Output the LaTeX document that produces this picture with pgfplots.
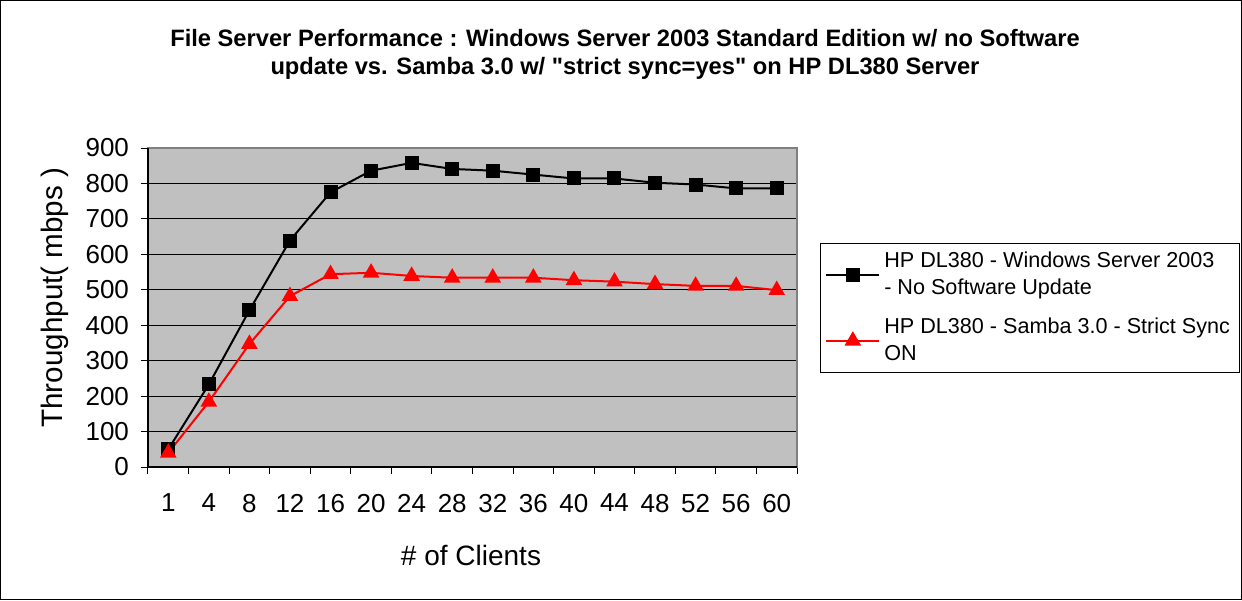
\documentclass[border=0pt]{standalone}
\usepackage{pgfplots}
\pgfplotsset{compat=1.18}
\usepackage{fontspec}
\setmainfont{Liberation Sans}
\newfontfamily\titlefont{Liberation Sans}
\definecolor{plotgray}{HTML}{C0C0C0}
\definecolor{framegray}{HTML}{808080}
\begin{document}
\begin{tikzpicture}
\draw[line width=0.5pt] (-73.75pt,-66.25pt) rectangle (546.75pt,233.25pt);
\begin{axis}[
  at={(0pt,0pt)}, anchor=south west,
  scale only axis, width=324.5pt, height=159.5pt,
  xmin=-0.5, xmax=15.5, ymin=0, ymax=900,
  ytick={0,100,...,900},
  xtick={0,...,15},
  xticklabels={1,4,8,12,16,20,24,28,32,36,40,44,48,52,56,60},
  minor xtick={-0.5,0.5,...,15.5},
  major x tick style={draw=none},
  minor x tick style={black, line width=0.5pt},
  y tick style={black, line width=0.5pt},
  major tick length=3.5pt, minor tick length=3.5pt,
  tick align=outside, tick pos=left,
  axis background/.style={fill=plotgray},
  axis line style={draw=framegray, line width=0.8pt},
  ymajorgrids, grid style={black, line width=0.5pt},
  tick label style={font=\fontsize{13}{15}\selectfont},
  xticklabel style={yshift=-6.5pt},
  yticklabel style={xshift=-2.5pt},
  /pgf/number format/assume math mode=true,
  xlabel={\# of Clients},
  ylabel={Throughput( mbps )},
  every axis x label/.style={at={(rel axis cs:0.4977,-0.276)}, anchor=center, font=\fontsize{14}{16}\selectfont},
  every axis y label/.style={at={(rel axis cs:-0.1433,0.531)}, rotate=90, anchor=center, font=\fontsize{14.8}{16}\selectfont},
  legend style={at={(1.0354,0.2947)}, anchor=south west, draw=black, fill=white,
    font=\fontsize{10.8}{13.5}\selectfont, cells={align=left}, row sep=6pt,
    inner xsep=2.5pt, inner ysep=2.5pt},
  legend cell align=left,
  legend image code/.code={\draw[mark repeat=2,mark phase=2] plot coordinates {(0cm,0cm) (0.465cm,0cm) (0.93cm,0cm)};},
  clip=false,
]
\addplot[black, line width=1pt, mark=square*, mark size=3pt, mark options={solid}]
  coordinates {(0,50) (1,233) (2,442) (3,639) (4,775) (5,836) (6,858) (7,841)
  (8,836) (9,825) (10,814) (11,814) (12,802) (13,797) (14,786) (15,786)};
\addlegendentry{HP DL380 - Windows Server 2003\\- No Software Update}
\addplot[red, line width=1pt, mark=triangle*, mark size=3.8pt, mark options={solid}]
  coordinates {(0,40) (1,184) (2,347) (3,482) (4,544) (5,548) (6,539) (7,534)
  (8,534) (9,534) (10,527) (11,523) (12,516) (13,511) (14,511) (15,499)};
\addlegendentry{HP DL380 - Samba 3.0 - Strict Sync\\ON}
\draw[black, line width=0.8pt] (rel axis cs:0,1) -- (rel axis cs:0,0) -- (rel axis cs:1,0);
\end{axis}
\node[align=center, anchor=base, font=\titlefont\bfseries\fontsize{11.85}{14}\selectfont] at (238.5pt,196pt)
  {File Server Performance : Windows Server 2003 Standard Edition w/ no Software\\update vs. Samba 3.0 w/ "strict sync=yes" on HP DL380 Server};
\end{tikzpicture}
\end{document}
